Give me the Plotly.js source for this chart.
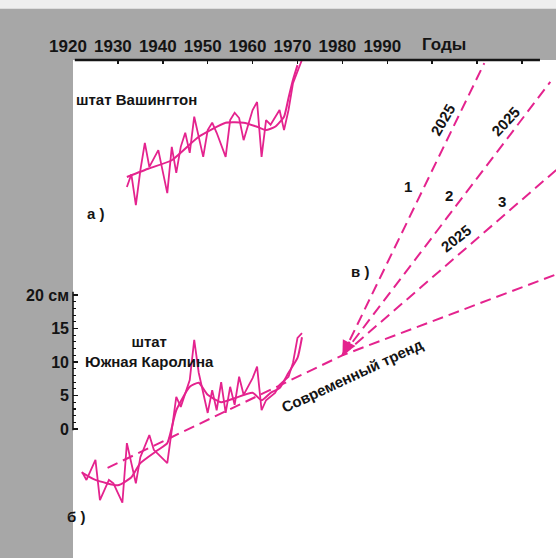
<!DOCTYPE html>
<html>
<head>
<meta charset="utf-8">
<script src="https://cdn.plot.ly/plotly-3.0.1.min.js"></script>
<style>
  html, body { margin: 0; padding: 0; background: #a7a7a7; }
  #chart { width: 556px; height: 558px; }
</style>
</head>
<body>
<div id="chart"></div>
<script>
// Sea level change, cm. Top axis: years.
const DECADE_TICKS = [1920, 1930, 1940, 1950, 1960, 1970, 1980, 1990, 2000, 2010, 2020];
const DECADE_LABELS = ['1920', '1930', '1940', '1950', '1960', '1970', '1980', '1990', '', '', ''];
const CM_TICKS = [0, 5, 10, 15, 20];
const CM_LABELS = ['0', '5', '10', '15', '20 см'];
const CM_MINOR = [1, 2, 3, 4, 6, 7, 8, 9, 11, 12, 13, 14, 16, 17, 18, 19];

// а) Washington state: yearly values and smoothed curve (relative, cm)
const WA_YEARS = [1932, 1933, 1934, 1935, 1936, 1937, 1939, 1941, 1942, 1943, 1944, 1945, 1946, 1947, 1949, 1950, 1951, 1952, 1954, 1955, 1956, 1957, 1958, 1960, 1961, 1962, 1963, 1964, 1966, 1967, 1968, 1969, 1971];
const WA_LEVEL = [-1.8, 0.1, -4.5, 0.7, 4.8, 1.2, 3.7, -2.7, 4.2, 0.3, 4.2, 6.3, 3.3, 8.7, 2.7, 6.7, 7.8, 6.3, 2.7, 8.2, 9.3, 8.5, 5.2, 9.7, 10.9, 2.7, 8.2, 7.5, 9.7, 6.7, 9.7, 13.7, 17.2];
const WA_SMOOTH_YEARS = [1932, 1937, 1942, 1948, 1954, 1958, 1961, 1963, 1965, 1967, 1968, 1969, 1970];
const WA_SMOOTH = [-0.3, 1.0, 2.2, 5.7, 7.8, 7.8, 7.2, 6.7, 7.2, 8.7, 11.5, 14.2, 16.4];

// б) South Carolina: yearly values and smoothed curve, cm
const SC_YEARS = [1922, 1923, 1925, 1926, 1928, 1929, 1931, 1932, 1934, 1935, 1937, 1938, 1941, 1943, 1944, 1946, 1947, 1948, 1950, 1951, 1952, 1953, 1954, 1955, 1956, 1957, 1958, 1960, 1961, 1962, 1963, 1965, 1966, 1968, 1969, 1970, 1971];
const SC_LEVEL = [-6.4, -7.6, -4.6, -10.6, -7.6, -8.1, -11.0, -2.1, -8.1, -4.2, -0.9, -3.1, -5.1, 4.8, 3.3, 7.3, 13.3, 8.4, 2.4, 5.8, 2.8, 7.0, 2.4, 6.3, 3.6, 7.8, 5.1, 7.6, 9.3, 2.8, 4.3, 5.4, 6.6, 7.8, 9.9, 13.6, 14.3];
const SC_SMOOTH_YEARS = [1922, 1925, 1930, 1933, 1935, 1939, 1941, 1943, 1946, 1948, 1950, 1953, 1956, 1960, 1962, 1964, 1966, 1968, 1970, 1971];
const SC_SMOOTH = [-6.5, -7.6, -8.4, -7.2, -5.1, -3.1, -2.1, 2.8, 6.3, 6.9, 5.1, 4.0, 4.6, 5.4, 4.3, 5.4, 6.1, 8.4, 10.6, 13.7];

// в) Projections from the present-day point
const ORIGIN_YEAR = 1980;
const ORIGIN_LEVEL = 11;
const SCENARIO_NAMES = ['1', '2', '3'];
const SCENARIO_END_YEAR = [2011.6, 2026.3, 2027.7];
const SCENARIO_END_LEVEL = [54.6, 51.8, 38.7];
const TREND_YEARS = [1927.7, 1980, 2027.7];
const TREND_LEVEL = [-5.8, 11, 23.1];

// ---- styling ----
const PINK = '#e4238e';
const INK = '#141414';
const FONT = 'Liberation Sans, Arial, sans-serif';
const X_RANGE = [1920, 2027.57];
const Y_RANGE = [-19.25, 55.07];
const Y2_RANGE = [-57.16, 17.16];
const AXIS_END_YEAR = 2024;
const DASH = '11px,6px';

const traces = [];
traces.push({ x: WA_YEARS, y: WA_LEVEL, yaxis: 'y2', mode: 'lines',
  line: { color: PINK, width: 1.8 }, hoverinfo: 'skip' });
traces.push({ x: WA_SMOOTH_YEARS, y: WA_SMOOTH, yaxis: 'y2', mode: 'lines',
  line: { color: PINK, width: 2, shape: 'spline', smoothing: 0.5 }, hoverinfo: 'skip' });
traces.push({ x: SC_YEARS, y: SC_LEVEL, mode: 'lines',
  line: { color: PINK, width: 1.8 }, hoverinfo: 'skip' });
traces.push({ x: SC_SMOOTH_YEARS, y: SC_SMOOTH, mode: 'lines',
  line: { color: PINK, width: 2, shape: 'spline', smoothing: 0.5 }, hoverinfo: 'skip' });
traces.push({ x: TREND_YEARS, y: TREND_LEVEL, mode: 'lines',
  line: { color: PINK, width: 2, dash: DASH }, hoverinfo: 'skip' });
SCENARIO_NAMES.forEach((name, i) => {
  traces.push({ x: [ORIGIN_YEAR, SCENARIO_END_YEAR[i]], y: [ORIGIN_LEVEL, SCENARIO_END_LEVEL[i]],
    name: name, mode: 'lines', line: { color: PINK, width: 2, dash: DASH }, hoverinfo: 'skip' });
});

const xPaper = v => (v - X_RANGE[0]) / (X_RANGE[1] - X_RANGE[0]);
const yPaper = v => (v - Y_RANGE[0]) / (Y_RANGE[1] - Y_RANGE[0]);

const shapes = [
  // pale strip along the upper edge of the sheet
  { type: 'rect', xref: 'paper', yref: 'paper', x0: -0.2, x1: 1.05, y0: 1.103, y1: 1.2,
    fillcolor: '#eeeeee', line: { width: 0 }, layer: 'below' },
  // top year axis line
  { type: 'line', xref: 'paper', yref: 'paper', x0: xPaper(1920.4), x1: xPaper(AXIS_END_YEAR), y0: 1, y1: 1,
    line: { color: INK, width: 2.5 } },
  // centimetre scale line
  { type: 'line', xref: 'paper', yref: 'paper', x0: 0, x1: 0, y0: yPaper(-0.2), y1: yPaper(20.5),
    line: { color: INK, width: 1.6 } }
];

const lbl = (text, x, y, size, extra) => Object.assign({
  text: text, x: x, y: y, xref: 'x', yref: 'y', showarrow: false,
  font: { family: FONT, size: size, color: INK, weight: 'bold' }
}, extra || {});

const annotations = [
  lbl('Годы', 2002.7, 1.0307, 17, { yref: 'paper', yanchor: 'middle' }),
  lbl('штат Вашингтон', 1920.2, 49.25, 15, { xanchor: 'left' }),
  lbl('а )', 1925.2, 32.2, 15),
  lbl('б )', 1920.6, -13.1, 15),
  lbl('штат<br>Южная Каролина', 1937.0, 11.5, 15, { align: 'center' }),
  lbl('Современный тренд', 1982.2, 8.06, 15, { textangle: -25 }),
  lbl('в )', 1983.9, 23.5, 15),
  lbl(SCENARIO_NAMES[0], 1994.65, 36.16, 15),
  lbl(SCENARIO_NAMES[1], 2003.7, 34.9, 15),
  lbl(SCENARIO_NAMES[2], 2015.6, 33.9, 15),
  lbl('2025', 2002.2, 46.1, 15, { textangle: -60 }),
  lbl('2025', 2016.3, 45.9, 15, { textangle: -47 }),
  lbl('2025', 2005.2, 28.5, 15, { textangle: -38 }),
  // arrowhead where the projections meet
  { x: ORIGIN_YEAR, y: ORIGIN_LEVEL, xref: 'x', yref: 'y', text: '', showarrow: true,
    ax: 8, ay: -15, arrowhead: 2, arrowsize: 1.3, arrowwidth: 2.2, arrowcolor: PINK, standoff: 0 }
];

const layout = {
  width: 556, height: 558,
  margin: { l: 73, r: 0, t: 60, b: 0, pad: 0 },
  paper_bgcolor: '#a7a7a7',
  plot_bgcolor: '#ffffff',
  showlegend: false,
  xaxis: {
    range: X_RANGE, side: 'top', showgrid: false, zeroline: false, showline: false,
    ticks: 'inside', ticklen: 4, tickwidth: 1.5, tickcolor: INK,
    tickmode: 'array', tickvals: DECADE_TICKS, ticktext: DECADE_LABELS,
    tickfont: { family: FONT, size: 17, color: INK, weight: 'bold' },
    ticklabelstandoff: 4, ticklabelshift: -5, fixedrange: true
  },
  yaxis: {
    range: Y_RANGE, showgrid: false, zeroline: false, showline: false,
    ticks: 'inside', ticklen: 5, tickwidth: 1.5, tickcolor: INK,
    tickmode: 'array', tickvals: CM_TICKS, ticktext: CM_LABELS,
    tickfont: { family: FONT, size: 16, color: INK, weight: 'bold' },
    ticklabelstandoff: 3,
    minor: { tickmode: 'array', tickvals: CM_MINOR, ticks: 'inside', ticklen: 3, tickwidth: 1.2, tickcolor: INK, showgrid: false },
    fixedrange: true
  },
  yaxis2: { range: Y2_RANGE, overlaying: 'y', visible: false, fixedrange: true },
  shapes: shapes,
  annotations: annotations
};

Plotly.newPlot('chart', traces, layout, { displayModeBar: false, staticPlot: true });
</script>
</body>
</html>
